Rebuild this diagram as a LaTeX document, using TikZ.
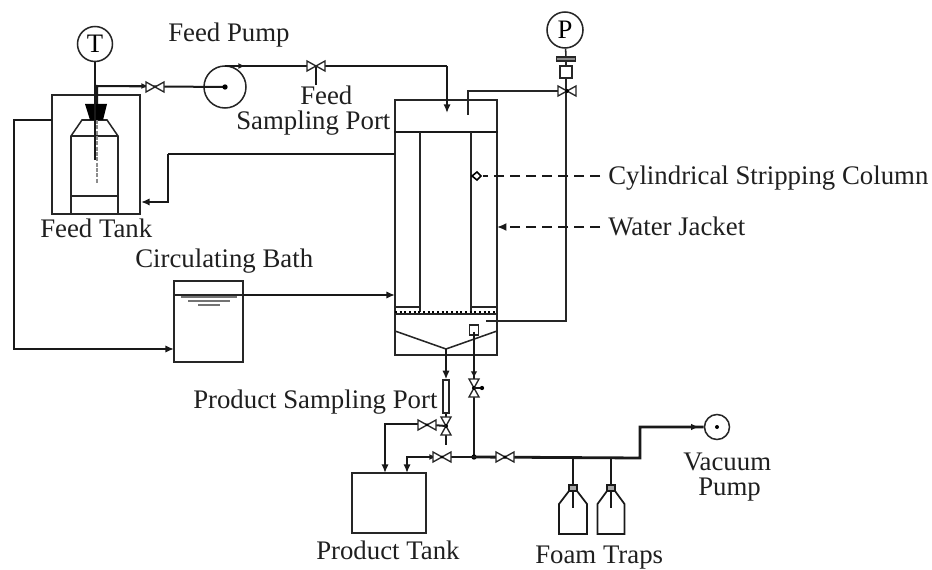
\documentclass[tikz,border=0pt]{standalone}
\usepackage{fontspec}
\setmainfont{Liberation Serif}
\usetikzlibrary{arrows.meta,calc}
\newcommand{\valveH}[3]{\coordinate (#1) at (#2,#3);
  \draw[valvest] ($(#1)+(-9,-5)$) -- ($(#1)+(9,5)$) -- ($(#1)+(9,-5)$) -- ($(#1)+(-9,5)$) -- cycle;}
\newcommand{\valveV}[3]{\coordinate (#1) at (#2,#3);
  \draw[valvest] ($(#1)+(-5,-9)$) -- ($(#1)+(5,9)$) -- ($(#1)+(-5,9)$) -- ($(#1)+(5,-9)$) -- cycle;}
\tikzset{
  x=0.75pt,y=-0.75pt,
  thinline/.style={line width=1.15pt,draw=black!85},
  pipe/.style={line width=1.5pt,draw=black!90},
  heavy/.style={line width=2.1pt,draw=black!90},
  tipped/.style={-{Latex[length=6.5pt,width=5.5pt]}},
  valvest/.style={line width=1pt,draw=black!85,fill=white},
  lab/.style={anchor=base west,inner sep=0pt,font=\fontsize{20.1}{24}\selectfont,text=black!88},
  gauge/.style={circle,draw=black!85,line width=1.15pt,fill=white,inner sep=0pt},
  boxn/.style={draw=black!85,line width=1.15pt,inner sep=0pt},
}
\begin{document}
\begin{tikzpicture}
\useasboundingbox (0,0) rectangle (932,570);
% named nodes
\node[gauge,minimum size=35*0.75pt] (T) at (95,44) {\fontsize{20}{24}\selectfont T};
\node[gauge,minimum size=36*0.75pt] (P) at (565,30) {\fontsize{20}{24}\selectfont P};
\node[gauge,minimum size=42*0.75pt,fill=none] (pump) at (225,87) {};
\node[gauge,minimum size=25*0.75pt,fill=none] (vac) at (717,427) {};
\node[boxn,minimum width=88*0.75pt,minimum height=119*0.75pt] (jacket) at (96,154.5) {};
\node[boxn,minimum width=69*0.75pt,minimum height=81*0.75pt] (bath) at (208.5,321.5) {};
\node[boxn,minimum width=102*0.75pt,minimum height=255*0.75pt] (col) at (446,227.5) {};
\node[boxn,minimum width=74*0.75pt,minimum height=60*0.75pt] (ptank) at (389,503) {};
\node[boxn,minimum width=6*0.75pt,minimum height=33*0.75pt,line width=1pt] (tube) at (446,396.5) {};
\node[boxn,minimum width=9*0.75pt,minimum height=10*0.75pt,line width=1pt] (sbox) at (474,330) {};
\node[boxn,minimum width=12*0.75pt,minimum height=12*0.75pt,line width=1pt] (psq) at (566,72) {};
\node[boxn,minimum width=19*0.75pt,minimum height=4*0.75pt,fill=black!45,line width=1pt] (gask) at (566,59) {};
% coordinates
\coordinate (colFeed) at (447,113);
\coordinate (colRet) at (395,154);
\coordinate (retIn) at (141,202);
\coordinate (jacOut) at (52,120);
\coordinate (bathIn) at (174,349);
\coordinate (bathOut) at (243,295);
\coordinate (colIn) at (395,295);
\coordinate (funnel) at (446,349);
\coordinate (junc) at (474,457);
\coordinate (drainTop) at (474,332);
\coordinate (tr1) at (573,458);
\coordinate (tr2) at (611,458);
\coordinate (trEnd) at (640,458);
\coordinate (tank1) at (385,473);
\coordinate (tank2) at (407,473);
\coordinate (stemB) at (95,160);
\coordinate (tankPipe) at (97,104);
\coordinate (sport) at (316,85);
\coordinate (pumpT) at (225,66);
\coordinate (colPort) at (468,115);
\coordinate (pEnd) at (486,321);
% bottle in feed tank
\draw[thinline] (71,214) -- (71,136) -- (82,120) -- (107,120) -- (118,136) -- (118,214);
\draw[thinline] (71,136) -- (118,136) (71,196) -- (118,196);
\draw[line width=0.9pt,draw=black!45,dash pattern=on 3pt off 1pt] (97,120) -- (97,184);
\fill[black] (85,104) -- (107,104) -- (103,120) -- (90,120) -- cycle;
\draw[heavy] (T) -- (stemB);
% feed lines
\draw[pipe] (tankPipe) -- (97,86) -- (pump.center);
\draw[pipe,-{Latex[length=5pt,width=4.5pt]}] (97,86) -- (148,86);
\fill[black] (pump.center) circle (2pt);
\draw[pipe] (pumpT) -- (447,66);
\draw[heavy,tipped] (447,66) -- (colFeed);
\draw[pipe] (316,66) -- (sport);
\draw[pipe,-{Latex[length=5pt,width=4.5pt]}] (232,66) -- (245,66);
\valveH{vfeed}{155}{87}
\valveH{vsamp}{316}{66}
% return lines
\draw[pipe] (colRet) -- (168,154);
\draw[heavy,tipped] (168,154) -- (168,202) -- (retIn);
\draw[pipe,tipped] (jacOut) -| (14,349) -- (bathIn);
\draw[heavy,tipped] (bathOut) -- (colIn);
% bath water
\draw[thinline] (bath.west |- bathOut) -- (bathOut);
\draw[line width=1pt,draw=black!55] (181,297) -- (237,297) (188,301) -- (230,301) (198,305) -- (220,305);
% column internals
\draw[heavy] (col.west |- 0,132) -- (col.east |- 0,132);
\draw[line width=1.4pt,draw=black!85] (420,132) -- (420,312);
\draw[thinline] (471,132) -- (471,312);
\draw[thinline] (395,307) -- (420,307) (471,307) -- (497,307);
\draw[line width=1.5pt,dotted,draw=black] (395,312) -- (497,312);
\draw[thinline] (395,314) -- (497,314);
\draw[thinline] (395,331) -- (funnel) -- (497,331);
% pressure line
\draw[thinline] (colPort) -- (468,91) -- (566,91);
\draw[thinline] (P) -- (gask) -- (psq) -- (566,321) -- (pEnd);
\valveH{vp}{567}{91}
\fill[black] (vp) circle (1.5pt);
% dashed pointers
\draw[line width=1.4pt,dash pattern=on 7.5pt off 4.5pt,draw=black!90] (600,176) -- (483,176);
\draw[line width=1.2pt,draw=black,fill=white] (472,176) -- (477,172) -- (481,176) -- (477,180) -- cycle;
\draw[line width=1.4pt,dash pattern=on 7.5pt off 4.5pt,draw=black!90,-{Latex[length=7pt,width=6pt]}] (600,227) -- (497,227);
% bottom piping
\draw[heavy,tipped] (funnel) -- (tube.north);
\draw[heavy] (tube.south) -- (446,445);
\draw[heavy] (drainTop) -- (junc);
\draw[heavy,-{Latex[length=5pt,width=5pt]}] (drainTop) -- (474,378);
\fill[black] (junc) circle (2pt);
\valveV{vs}{446}{426}
\fill[black] (vs) circle (1.5pt);
\valveV{vd}{474}{388}
\fill[black] (vd) circle (1.5pt);
\draw[pipe] (vd) -- (482,388);
\fill[black] (482,388) circle (1.6pt);
\draw[pipe,tipped] (419,424) -| (tank1);
\draw[pipe] (419,424) -- (vs);
\valveH{vh}{427}{425}
\fill[black] (vh) circle (1pt);
\draw[heavy,tipped] (junc) -- (tank2 |- junc) -- (tank2);
\draw[pipe,-{Latex[length=5pt,width=4.5pt]}] (407,457) -- (436,457);
\draw[heavy] (junc) -- (trEnd) -- (640,427) -- (vac.west);
\draw[heavy,-{Latex[length=6pt,width=5pt]}] (640,427) -- (699,427);
\fill[black] (vac.center) circle (1.5pt);
\valveH{vj}{442}{457}
\fill[black] (vj) circle (1.2pt);
\valveH{vm}{505}{457}
\fill[black] (vm) circle (1.2pt);
% foam traps
\draw[pipe] (tr1) -- (573,508);
\draw[pipe] (tr2) -- (611,508);
\foreach \cx/\hw in {573/14,611/13.5}{
  \draw[line width=1.3pt,draw=black!90] (\cx-\hw,534) -- (\cx+\hw,534) -- (\cx+\hw,504) -- (\cx+4,491) -- (\cx-4,491) -- (\cx-\hw,504) -- cycle;
  \draw[line width=1.3pt,draw=black!90,fill=black!35] (\cx-4,485) rectangle (\cx+4,491);
}
% labels
\node[lab] (l1) at (168,42) {Feed Pump};
\node[lab] (l2) at (300,105) {Feed};
\node[lab] (l3) at (236,130) {Sampling Port};
\node[lab] (l4) at (40,238) {Feed Tank};
\node[lab] (l5) at (135,268) {Circulating Bath};
\node[lab] (l6) at (608,185) {Cylindrical Stripping Column};
\node[lab] (l7) at (608,236) {Water Jacket};
\node[lab] (l8) at (193,408) {Product Sampling Port};
\node[lab] (l9) at (316,559) {Product Tank};
\node[lab] (l10) at (535,563) {Foam Traps};
\node[lab] (l11) at (683,470) {Vacuum};
\node[lab] (l12) at (698,495) {Pump};
\end{tikzpicture}
\end{document}
